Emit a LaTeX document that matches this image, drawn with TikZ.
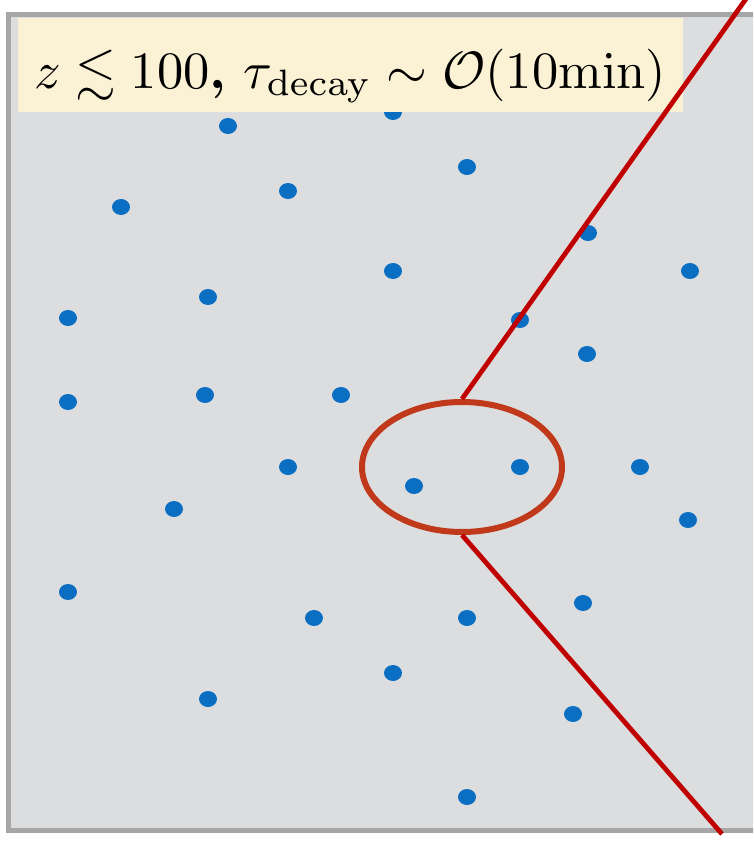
\documentclass[tikz,border=0pt]{standalone}
\usepackage{amsmath,amssymb}
\definecolor{panelgray}{HTML}{DCDDDF}
\definecolor{framegray}{HTML}{A6A6A6}
\definecolor{labelbg}{HTML}{FBF2D6}
\definecolor{dotblue}{HTML}{0A6FC2}
\definecolor{linered}{HTML}{C00000}
\definecolor{ringred}{HTML}{C0391B}
\usetikzlibrary{shapes.geometric}
\tikzset{
  dotmark/.style={fill=dotblue, draw=none, ellipse, minimum width=18pt, minimum height=16pt, inner sep=0pt},
  panel/.style={fill=panelgray, draw=framegray, line width=5pt},
  labelbox/.style={fill=labelbg, draw=none},
  redline/.style={draw=linered, line width=4.8pt},
  ring/.style={draw=ringred, line width=6pt}
}
\begin{document}
\begin{tikzpicture}[x=1pt,y=-1pt]
\useasboundingbox (0,0) rectangle (753,857);
\clip (0,0) rectangle (753,857);
\fill[white] (0,0) rectangle (753,857);
\draw[panel] (8,14) rectangle (780,830);
% dots
\foreach \n/\x/\y in {a/228/126,b/393/112,c/467/167,d/121/207,e/288/191,f/588/233,g/393/271,h/690/271,i/208/297,j/68/318,k/520/320,l/587/354,m/68/402,n/205/395,o/341/395,p/288/467,q/414/486,r/520/467,s/640/467,t/174/509,u/688/520,v/68/592,w/314/618,x/467/618,y/583/603,z/393/673,aa/208/699,ab/573/714,ac/467/797}
  \node[dotmark] (dot\n) at (\x,\y) {};
% label
\fill[labelbox] (18,18) rectangle (683,112);
\node[anchor=base west, inner sep=0pt] (lbl) at (34,88)
  {\resizebox{632pt}{!}{$z \lesssim 100\boldsymbol{,}\ \tau_{\mathrm{decay}} \sim \mathcal{O}(10\mathrm{min})$}};
% ring and lines
\node[ring, ellipse, minimum width=200pt, minimum height=130pt, inner sep=0pt] (ring) at (462,467) {};
\coordinate (topend) at (748,-4);
\coordinate (botend) at (722,834);
\draw[redline] (ring.north) -- (topend);
\draw[redline] (ring.south) -- (botend);
\end{tikzpicture}
\end{document}
